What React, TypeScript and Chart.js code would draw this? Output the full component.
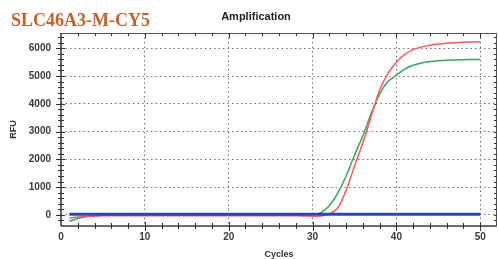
import { useEffect, useRef } from 'react';
import { Chart, registerables } from 'chart.js';

Chart.register(...registerables);

const cycles = [1, 2, 3, 4, 5, 6, 7, 8, 9, 10, 11, 12, 13, 14, 15, 16, 17, 18, 19, 20, 21, 22, 23, 24, 25, 26, 27, 28, 29, 30, 31, 32, 33, 34, 35, 36, 37, 38, 39, 40, 41, 42, 43, 44, 45, 46, 47, 48, 49, 50];

const blueRFU = [20, 20, 20, 20, 20, 20, 20, 20, 20, 20, 20, 20, 20, 20, 20, 20, 20, 20, 20, 20, 20, 20, 20, 20, 20, 20, 20, 20, 20, 20, 20, 20, 20, 20, 20, 20, 20, 20, 20, 20, 20, 20, 20, 20, 20, 20, 20, 20, 20, 20];

const greenRFU = [-230, -130, -70, -35, -15, -5, 0, 0, 0, 0, 0, 0, 0, 0, 0, 0, 0, 0, 0, 0, 0, 0, 0, 0, 0, 0, 0, 0, 0, 10, 80, 330, 780, 1400, 2150, 2850, 3650, 4350, 4800, 5030, 5250, 5390, 5470, 5520, 5550, 5570, 5580, 5590, 5595, 5600];

const redRFU = [-110, -80, -60, -45, -35, -30, -30, -30, -30, -30, -30, -30, -30, -30, -30, -30, -30, -30, -30, -30, -30, -30, -30, -30, -30, -30, -30, -35, -40, -45, -40, 40, 250, 880, 1750, 2600, 3550, 4500, 5100, 5500, 5780, 5950, 6050, 6110, 6150, 6180, 6200, 6215, 6225, 6235];

const xTicks = [0, 10, 20, 30, 40, 50];
const yTicks = [0, 1000, 2000, 3000, 4000, 5000, 6000];

const chartTitle = 'Amplification';
const targetLabel = 'SLC46A3-M-CY5';
const xTitle = 'Cycles';
const yTitle = 'RFU';

const frameColor = '#555555';

const framePlugin = {
  id: 'frameTicks',
  afterDraw(chart: any) {
    const { ctx, chartArea, scales } = chart;
    const { left, right, top, bottom } = chartArea;
    const xs = scales.x;
    const ys = scales.y;
    ctx.save();
    ctx.strokeStyle = frameColor;
    ctx.lineWidth = 1;
    ctx.beginPath();
    ctx.moveTo(left, top + 0.5);
    ctx.lineTo(right, top + 0.5);
    ctx.moveTo(right - 0.5, top);
    ctx.lineTo(right - 0.5, bottom);
    ctx.stroke();
    ctx.lineWidth = 2;
    ctx.strokeStyle = '#6a6a6a';
    ctx.beginPath();
    ctx.moveTo(left, bottom);
    ctx.lineTo(right, bottom);
    ctx.stroke();
    ctx.lineWidth = 1.5;
    ctx.strokeStyle = '#333';
    ctx.beginPath();
    ctx.moveTo(left, top);
    ctx.lineTo(left, bottom);
    ctx.stroke();
    ctx.lineWidth = 1;
    ctx.strokeStyle = '#333';
    for (let v = 2; v <= 52; v += 2) {
      const px = Math.round(xs.getPixelForValue(v)) + 0.5;
      if (px > right) continue;
      const major = v % 10 === 0;
      ctx.beginPath();
      ctx.moveTo(px, bottom - (major ? 4 : 3));
      ctx.lineTo(px, bottom + (major ? 5 : 3));
      ctx.moveTo(px, top);
      ctx.lineTo(px, top + (major ? 5 : 3));
      ctx.stroke();
    }
    for (let v = -200; v <= 6400; v += 200) {
      const py = Math.round(ys.getPixelForValue(v)) + 0.5;
      if (py < top || py > bottom) continue;
      const major = v % 1000 === 0;
      ctx.beginPath();
      ctx.moveTo(left - (major ? 5 : 3), py);
      ctx.lineTo(left + (major ? 4 : 3), py);
      ctx.moveTo(right - 3, py);
      ctx.lineTo(right, py);
      ctx.stroke();
    }
    ctx.fillStyle = '#222';
    ctx.font = 'bold 11px "Liberation Sans", Arial, sans-serif';
    ctx.textAlign = 'center';
    ctx.textBaseline = 'middle';
    ctx.fillText(chartTitle, 256, 17);
    ctx.fillStyle = '#c4622d';
    ctx.font = 'bold 18px "Liberation Serif", "Times New Roman", serif';
    ctx.textAlign = 'left';
    ctx.textBaseline = 'alphabetic';
    ctx.fillText(targetLabel, 11, 26);
    ctx.restore();
  },
};

export default function App() {
  const ref = useRef<HTMLCanvasElement>(null);
  useEffect(() => {
    document.body.style.margin = '0';
    const canvas = ref.current;
    if (!canvas) return;
    const tickFont = { family: '"Liberation Sans", Arial, sans-serif', size: 10, weight: 'bold' as const };
    const chart = new Chart(canvas, {
      type: 'line',
      data: {
        datasets: [
          {
            label: 'Blue',
            data: cycles.map((c, i) => ({ x: c, y: blueRFU[i] })),
            borderColor: '#2747b8',
            borderWidth: 3,
            pointRadius: 0,
            tension: 0,
          },
          {
            label: 'Red',
            data: cycles.map((c, i) => ({ x: c, y: redRFU[i] })),
            borderColor: '#ff5b5b',
            borderWidth: 1.5,
            pointRadius: 0,
            cubicInterpolationMode: 'monotone',
          },
          {
            label: 'Green',
            data: cycles.map((c, i) => ({ x: c, y: greenRFU[i] })),
            borderColor: '#3ea35c',
            borderWidth: 1.5,
            pointRadius: 0,
            cubicInterpolationMode: 'monotone',
          },
        ],
      },
      options: {
        responsive: false,
        animation: false,
        devicePixelRatio: 1,
        layout: { padding: { top: 33, right: 1, left: 0, bottom: 0 } },
        plugins: { legend: { display: false }, tooltip: { enabled: false }, title: { display: false } },
        scales: {
          x: {
            type: 'linear',
            min: 0,
            max: 52,
            border: { display: false, dash: [1.5, 3] },
            afterFit: (s: any) => { s.height = 33; },
            afterBuildTicks: (s: any) => { s.ticks = xTicks.map((v) => ({ value: v })); },
            grid: {
              drawTicks: false,
              color: (c: any) => (c.tick && c.tick.value === 0 ? 'rgba(0,0,0,0)' : '#6f6f6f'),
              lineWidth: 1,
            },
            ticks: { font: tickFont, color: '#3a3a3a', padding: 5, maxRotation: 0, callback: (v: any) => String(v) },
            title: {
              display: true,
              text: xTitle,
              color: '#333',
              font: { family: '"Liberation Sans", Arial, sans-serif', size: 9, weight: 'bold', lineHeight: 1 },
              padding: { top: 0, bottom: 0 },
            },
          },
          y: {
            type: 'linear',
            min: -400,
            max: 6550,
            border: { display: false, dash: [1.5, 3] },
            afterFit: (s: any) => { s.width = 61; },
            afterBuildTicks: (s: any) => { s.ticks = yTicks.map((v) => ({ value: v })); },
            grid: { drawTicks: false, color: '#6f6f6f', lineWidth: 1 },
            ticks: { font: tickFont, color: '#3a3a3a', padding: 10, callback: (v: any) => String(v) },
            title: {
              display: true,
              text: yTitle,
              color: '#333',
              font: { family: '"Liberation Sans", Arial, sans-serif', size: 9, weight: 'bold', lineHeight: 1 },
              padding: { top: 9, bottom: 0 },
            },
          },
        },
      },
      plugins: [framePlugin],
    });
    return () => chart.destroy();
  }, []);
  return (
    <div style={{ width: 498, height: 259, position: 'relative' }}>
      <canvas ref={ref} width={498} height={259} style={{ display: 'block' }} />
    </div>
  );
}
